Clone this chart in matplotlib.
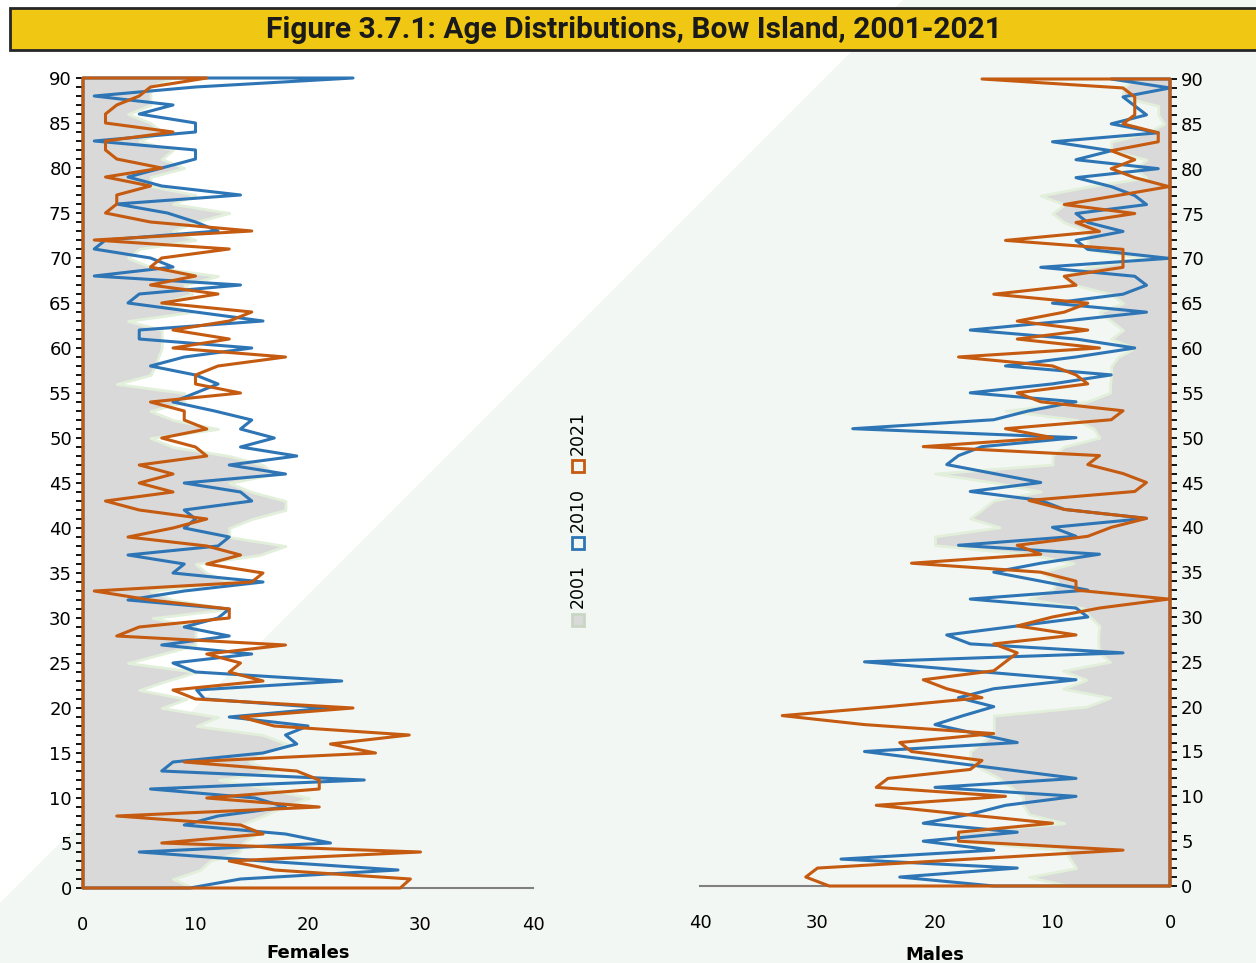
import matplotlib.pyplot as plt
import numpy as np
from matplotlib.patches import Polygon, Rectangle

# ages 0..90, population counts
ages = np.arange(0, 91)

fem_2001 = [9.8, 8, 10.4, 11.3, 13.9, 14.2, 15.4, 14, 16, 17.8, 20.1, 16.6, 12.1, 17, 14.8, 16, 18.1, 16, 10.1, 12,
            7, 9.2, 5, 7.4, 10.1, 4, 7, 10, 10, 10, 6.2, 13, 8, 6, 13, 11, 10, 15.7, 18, 13,
            13, 15, 18, 18, 15, 13, 17, 16, 13, 8, 6, 12, 8, 6, 9, 9, 3, 6, 6.4, 6.7,
            7, 7, 7, 4, 9.7, 7, 9.7, 9, 12, 6, 4, 5, 10, 8, 10, 13, 8, 10, 6, 6,
            9, 7, 8, 5, 7, 6, 4, 6, 6, 6, 8]
fem_2010 = [9.5, 14, 28, 16, 5, 22, 18, 9, 12, 18, 15.3, 6, 25, 7, 8, 16, 19, 18, 20, 13,
            21.8, 10.8, 10.1, 23, 10, 8, 15, 7, 13, 9, 12, 13, 4, 9, 16, 8, 9, 4, 12, 13,
            9, 10, 9, 15, 14, 9, 18, 13, 19, 14, 17, 14, 15, 11.7, 8, 10, 12, 10, 6, 9,
            15, 5, 5, 16, 10, 4, 5, 14, 1, 8, 6, 1, 2, 12, 10, 7.5, 3, 14, 7, 4,
            7, 10, 10, 1, 10, 10, 5, 8, 1, 10, 24]
fem_2021 = [28.2, 29.1, 17, 13, 30, 7, 16, 14, 3, 21, 11, 21, 21, 19, 9, 26, 22, 29, 17, 14,
            24, 10, 8, 16, 13, 14, 11, 18, 3, 5, 13, 13, 6, 1, 15, 16, 11, 14, 11, 4,
            8, 11, 5, 2, 8, 5, 8, 5, 11, 10, 7, 11, 9, 9, 6, 14, 10, 10, 12, 18,
            8, 13, 8, 13, 15, 7, 12, 6, 10, 6, 7, 13, 1, 15, 6, 2, 3, 3, 6, 2,
            7, 3, 2, 2, 8, 2, 2, 3, 5, 6, 11]

male_2001 = [8.5, 12, 8, 8.5, 9, 18, 18, 9, 12, 12.5, 12.5, 13.5, 14.5, 16, 17, 17, 16, 15, 15, 15,
             7.1, 5.1, 9.1, 7.1, 9.1, 5.1, 6, 6.1, 6.1, 6, 6.8, 7.4, 12, 10, 9.6, 11, 8.2, 12, 20, 20,
             14.5, 17, 16, 15, 11, 15, 20, 10, 10, 9, 6, 6.5, 8, 14, 7.1, 5.1, 5.1, 5, 5, 4.4,
             3, 5, 4, 5, 6, 4, 5, 8, 9, 7, 2, 7, 7, 7, 9, 10, 9, 11, 7, 2,
             3, 2, 5, 5, 2, 0.5, 1, 1, 4, 4, 3]
male_2010 = [15, 23, 13, 28, 15, 21, 13, 21, 17, 14, 8, 20, 8, 14, 20, 26, 13, 16.5, 20, 17.6,
             15, 18, 15, 8, 17, 26, 4, 17, 19, 13, 7, 8, 17, 7, 11, 15, 11, 6, 18, 8,
             10, 2, 9, 11, 17, 11, 15, 19, 18, 16, 8, 27, 15, 12, 8, 17, 10, 5, 14, 8,
             3, 8, 17, 9, 2, 10, 4, 2, 3, 11, 0.1, 7, 8, 4, 7, 8, 2, 3, 5, 8,
             1, 8, 5, 10, 1, 5, 2, 3, 4, 0, 5]
male_2021 = [29, 31, 30, 17, 4, 18, 18, 10, 17.6, 25, 14, 25, 24, 17, 16, 22, 23, 15, 26, 33,
             24, 16, 19, 21, 15, 14, 13, 15, 8, 13, 10, 6, 0.1, 8, 8, 11, 22, 11, 13, 7,
             5, 2, 9, 12, 3, 2, 4, 7, 6, 21, 10, 14, 5, 4, 11, 13, 7, 8, 10, 18,
             6, 13, 7, 13, 9, 7, 15, 8, 9, 4, 4, 4, 14, 6, 8, 3, 9, 4.5, 0.1, 3,
             5, 3, 5, 1, 1, 4, 3, 3, 3, 4, 16]

years = ['2001', '2010', '2021']
gray_fill = '#d9d9d9'
gray_edge = '#e2efda'
blue = '#2e75b6'
orange = '#c55a11'

W, H = 1256, 963
fig = plt.figure(figsize=(W / 100, H / 100), dpi=100)
fig.patch.set_facecolor('white')

# light diagonal background
bg = Polygon([(903 / W, 1), (1, 1), (1, 0), (0, 0), (0, 1 - 903 / H)], closed=True,
             transform=fig.transFigure, facecolor='#f3f7f3', edgecolor='none', zorder=-5)
fig.patches.append(bg)

# title banner
fig.patches.append(Rectangle((10 / W, 1 - 50 / H), 1.0, 42 / H, transform=fig.transFigure,
                             facecolor='#f0c814', edgecolor='#262626', lw=2, zorder=-4))
fig.text(634 / W, 1 - 30 / H, 'Figure 3.7.1: Age Distributions, Bow Island, 2001-2021',
         ha='center', va='center', fontsize=21.5, fontweight='bold', color='#1a1a1a',
         family=['Roboto', 'DejaVu Sans'])


def pyramid(ax, v01, v10, v21, side):
    ax.set_facecolor('none')
    ax.fill_betweenx(ages, 0, v01, facecolor=gray_fill, edgecolor=gray_edge, lw=2, clip_on=False, zorder=1)
    ax.fill_betweenx(ages, 0, v10, facecolor='none', edgecolor=blue, lw=2.2, clip_on=False, zorder=2)
    ax.fill_betweenx(ages, 0, v21, facecolor='none', edgecolor=orange, lw=2.2, clip_on=False, zorder=3)
    ax.set_ylim(0, 90)
    ax.set_yticks(range(0, 91, 5))
    ax.set_yticks(range(0, 91), minor=True)
    ax.set_xticks([0, 10, 20, 30, 40])
    ax.tick_params(axis='y', which='both', direction='out', length=5, width=1.3, labelsize=13, pad=3)
    ax.tick_params(axis='x', length=0, pad=20, labelsize=13)
    for s in ['top', 'left', 'right']:
        ax.spines[s].set_visible(False)
    ax.spines['bottom'].set_color('#808080')
    ax.spines['bottom'].set_linewidth(1.5)
    ax.spines[side].set_visible(True)
    ax.spines[side].set_color('#1a1a1a')
    ax.spines[side].set_linewidth(1.5)


axF = fig.add_axes([83 / W, 1 - 888 / H, 450 / W, 810 / H])
pyramid(axF, fem_2001, fem_2010, fem_2021, 'left')
axF.set_xlim(0, 40)
axF.set_xlabel('Females', fontsize=13, fontweight='bold', labelpad=7)

axM = fig.add_axes([700 / W, 1 - 886 / H, 470 / W, 807 / H])
pyramid(axM, male_2001, male_2010, male_2021, 'right')
axM.set_xlim(40, 0)
axM.yaxis.tick_right()
axM.set_xlabel('Males', fontsize=13, fontweight='bold', labelpad=10)

# vertical legend in the middle
leg_y = [620, 543, 466]
leg_text_y = [586, 510, 433]
leg_face = [gray_fill, 'none', 'none']
leg_edge = ['#c9d6c4', blue, orange]
for yr, sy, ty, fc, ec in zip(years, leg_y, leg_text_y, leg_face, leg_edge):
    fig.patches.append(Rectangle((572 / W, 1 - (sy + 6) / H), 12 / W, 12 / H, transform=fig.transFigure,
                                 facecolor=fc, edgecolor=ec, lw=2))
    fig.text(578 / W, 1 - ty / H, yr, rotation=90, ha='center', va='center', fontsize=12.5)

fig.savefig('out.png', dpi=100)
